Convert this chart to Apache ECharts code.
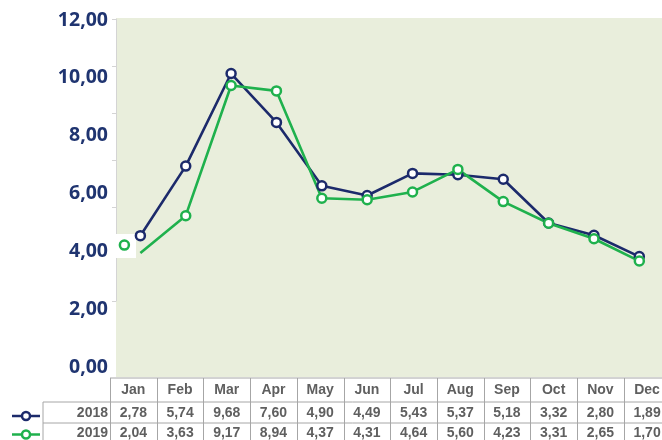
<!DOCTYPE html>
<html><head><meta charset="utf-8">
<script src="https://cdn.jsdelivr.net/npm/echarts@6/dist/echarts.min.js"></script>
<style>html,body{margin:0;padding:0;background:#fff}#c{width:662px;height:440px}</style>
</head><body><div id="c"></div>
<script>
const months = ['Jan','Feb','Mar','Apr','May','Jun','Jul','Aug','Sep','Oct','Nov','Dec'];
const seriesNames = ['2018','2019'];
const values2018 = [2.78,5.74,9.68,7.60,4.90,4.49,5.43,5.37,5.18,3.32,2.80,1.89];
const values2019 = [2.04,3.63,9.17,8.94,4.37,4.31,4.64,5.60,4.23,3.31,2.65,1.70];
const yMin = 0, yMax = 12, yStep = 2;

const NAVY = '#1c2a6b', GREEN = '#1fb14d', BG = '#e9eedc', BORDER = '#a6a6a6', TXT = '#5f5f5f';
const fmt = v => v.toFixed(2).replace('.', ',');

const chart = echarts.init(document.getElementById('c'), null, {renderer:'canvas'});

// table layout
const tabLeft = 110, colW = 46.7, rowLabelLeft = 43;
const yHead = 378, yR1 = 402, yR2 = 423, yEnd = 445;
const tableFont = "bold 14px 'Liberation Sans Narrow','Arial Narrow','Liberation Sans',sans-serif";
const g = [];
g.push({type:'rect', z:-1, shape:{x:116, y:18, width:546, height:359}, style:{fill:BG}});
g.push({type:'rect', z:1, shape:{x:108, y:234, width:28, height:24}, style:{fill:'#fff'}});
const line = (x1,y1,x2,y2) => g.push({type:'line', z:1, shape:{x1,y1,x2,y2}, style:{stroke:BORDER, lineWidth:1}});
line(tabLeft, yHead, 662, yHead);
line(rowLabelLeft, yR1, 662, yR1);
line(rowLabelLeft, yR2, 662, yR2);
line(rowLabelLeft, yR1, rowLabelLeft, yEnd);
for (let i = 0; i <= months.length; i++) {
  const x = Math.round(tabLeft + i*colW) + 0.5;
  line(x, yHead, x, yEnd);
}
const txt = (text, x, y, align) => g.push({type:'text', z:1, x, y, style:{text, font:tableFont, fill:TXT, align:align||'center', verticalAlign:'middle'}});
const rows = [values2018, values2019];
const rowY = [(yR1+yR2)/2 + 0.5, (yR2+yEnd)/2 - 0.5];
months.forEach((m,i) => {
  const cx = tabLeft + (i+0.5)*colW;
  txt(m, cx, (yHead+yR1)/2 + 0.5);
  rows.forEach((r,k) => txt(fmt(r[i]), cx, rowY[k]));
});
const colors = [NAVY, GREEN];
seriesNames.forEach((n,k) => {
  txt(n, tabLeft - 2, rowY[k], 'right');
  const sy = rowY[k] + (k === 0 ? 3 : 1);
  g.push({type:'line', z:1, shape:{x1:12, y1:sy, x2:40, y2:sy}, style:{stroke:colors[k], lineWidth:2.5}});
  g.push({type:'circle', z:2, shape:{cx:26, cy:sy, r:4}, style:{fill:'#fff', stroke:colors[k], lineWidth:2.5}});
});

const mkSeries = (name, data, color) => ({
  name, type:'line', xAxisIndex:0, yAxisIndex:0, data,
  symbol:'circle', symbolSize:9,
  lineStyle:{color, width:2.6},
  itemStyle:{color:'#fff', borderColor:color, borderWidth:2.5},
  z:3
});
const data2019 = values2019.map((v,i) => i === 0 ? {value:v, symbolOffset:[-16,-8]} : v);

chart.setOption({
  animation:false,
  backgroundColor:'#fff',
  grid:[
    {left:117.7, right:-14.3, top:19, bottom:139},
    {left:116, right:0, top:20, bottom:73}
  ],
  xAxis:[
    {type:'category', gridIndex:0, data:months, boundaryGap:true, axisLine:{show:false}, axisTick:{show:false}, axisLabel:{show:false}, splitLine:{show:false}},
    {type:'value', gridIndex:1, show:false}
  ],
  yAxis:[
    {type:'value', gridIndex:0, min:yMin, max:yMax, interval:yStep, offset:1.7,
     axisLine:{show:true, lineStyle:{color:'#d4d4d4', width:1}},
     axisTick:{show:true, length:4, lineStyle:{color:'#d4d4d4'}},
     axisLabel:{show:false}, splitLine:{show:false}},
    {type:'value', gridIndex:1, min:yMin, max:yMax, interval:yStep, z:5,
     axisLine:{show:false}, axisTick:{show:false}, splitLine:{show:false},
     axisLabel:{formatter:v => fmt(v), color:'#1f3470', fontWeight:'bold', fontSize:19.5, fontFamily:"'Open Sans', sans-serif", margin:8}}
  ],
  graphic:{elements:g},
  series:[
    mkSeries(seriesNames[0], values2018, NAVY),
    mkSeries(seriesNames[1], data2019, GREEN)
  ]
});
</script></body></html>
